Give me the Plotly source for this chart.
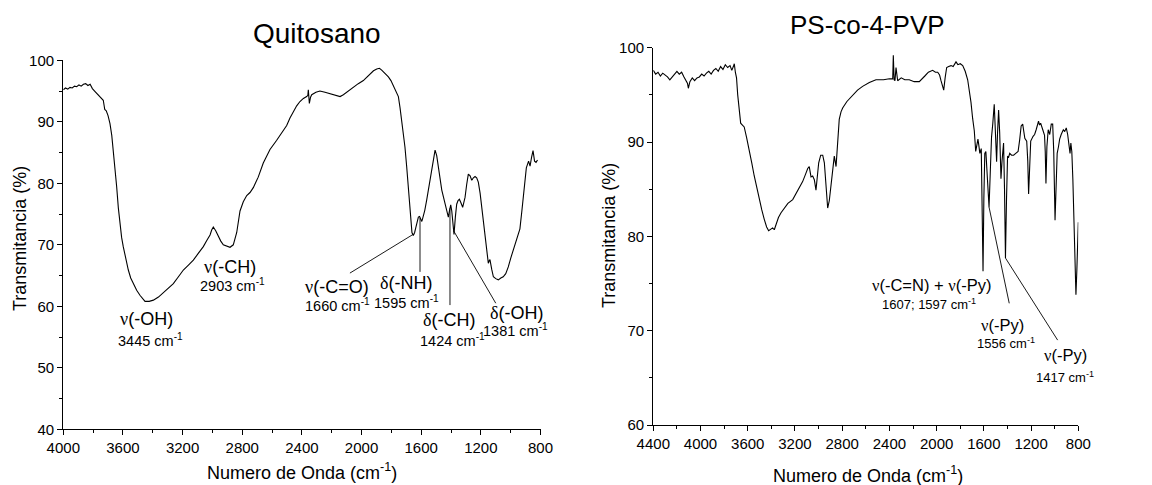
import numpy as np
import plotly.graph_objects as go

# ---------------- Quitosano FTIR spectrum (wavenumber cm-1, %T) ----------------
QUITOSANO_WN = [
    4000, 3985, 3970, 3955, 3940, 3925, 3910, 3895, 3880, 3865,
    3850, 3835, 3820, 3805, 3790, 3775, 3760, 3745, 3732, 3722,
    3712, 3700, 3687, 3675, 3665, 3653, 3642, 3631, 3620, 3609,
    3598, 3581, 3564, 3548, 3531, 3508, 3486, 3469, 3452, 3424,
    3396, 3362, 3329, 3295, 3262, 3228, 3195, 3161, 3128, 3095,
    3061, 3038, 3016, 3005, 2994, 2978, 2961, 2944, 2927, 2905,
    2882, 2860, 2837, 2815, 2793, 2770, 2748, 2726, 2693, 2659,
    2614, 2569, 2536, 2502, 2480, 2458, 2435, 2413, 2390, 2368,
    2360, 2357, 2353, 2350, 2342, 2334, 2306, 2279, 2245, 2212,
    2178, 2144, 2122, 2100, 2077, 2055, 2022, 1988, 1965, 1943,
    1920, 1898, 1880, 1865, 1843, 1820, 1803, 1787, 1770, 1753,
    1742, 1731, 1720, 1709, 1697, 1686, 1678, 1670, 1662, 1653,
    1644, 1635, 1627, 1619, 1611, 1603, 1596, 1590, 1576, 1563,
    1552, 1541, 1530, 1519, 1512, 1507, 1496, 1485, 1473, 1462,
    1451, 1440, 1429, 1418, 1410, 1402, 1395, 1389, 1384, 1380,
    1371, 1362, 1353, 1344, 1333, 1322, 1314, 1306, 1295, 1284,
    1272, 1261, 1250, 1239, 1228, 1217, 1205, 1194, 1183, 1172,
    1166, 1161, 1155, 1150, 1144, 1139, 1127, 1116, 1100, 1083,
    1066, 1050, 1033, 1016, 1000, 983, 965, 950, 938, 925,
    910, 895, 880, 870, 860, 850, 840, 830, 820,
]
QUITOSANO_T = [
    95.2, 95.5, 95.3, 95.6, 95.5, 95.8, 95.7, 96.0, 95.8, 96.1,
    96.2, 95.9, 96.1, 95.4, 95.0, 94.6, 94.1, 93.8, 93.5, 92.0,
    91.8, 91.0, 89.7, 87.8, 85.4, 82.5, 79.4, 76.0, 72.9, 71.2,
    69.7, 67.6, 65.9, 64.6, 63.7, 62.6, 61.8, 61.2, 60.8, 60.8,
    61.0, 61.5, 62.2, 63.0, 63.7, 64.8, 65.9, 66.7, 67.5, 68.6,
    69.7, 70.7, 71.6, 72.4, 72.9, 72.3, 71.3, 70.6, 70.0, 69.8,
    69.6, 70.0, 72.0, 75.5, 77.0, 78.0, 78.5, 79.3, 81.0, 83.3,
    85.5, 87.0, 88.2, 89.4, 90.6, 91.6, 92.6, 93.3, 93.8, 94.1,
    94.3, 95.2, 94.0, 93.0, 94.0, 94.4, 94.8, 95.0, 94.8, 94.6,
    94.3, 94.1, 94.4, 94.8, 95.3, 95.7, 96.2, 96.7, 97.3, 97.8,
    98.3, 98.6, 98.7, 98.4, 97.9, 97.3, 96.7, 95.9, 95.1, 94.1,
    92.3, 90.2, 88.2, 85.9, 82.6, 79.4, 76.2, 73.4, 72.0, 71.5,
    72.0, 72.9, 74.0, 74.5, 74.6, 74.0, 73.8, 74.3, 75.6, 77.3,
    78.9, 80.5, 82.5, 84.3, 85.1, 85.4, 84.5, 82.6, 80.6, 78.9,
    77.8, 76.7, 75.6, 74.5, 75.6, 76.5, 75.5, 74.0, 72.8, 71.7,
    74.5, 76.6, 77.2, 77.4, 76.8, 76.1, 76.9, 77.7, 79.8, 81.5,
    81.2, 80.5, 80.9, 81.1, 80.9, 80.2, 78.4, 76.1, 74.0, 71.8,
    70.6, 69.7, 68.0, 67.0, 67.4, 67.6, 66.0, 64.8, 64.5, 64.3,
    64.6, 64.8, 65.3, 66.4, 67.8, 69.2, 70.5, 71.8, 72.6, 75.5,
    79.0, 82.5, 83.6, 82.8, 84.2, 85.3, 83.6, 83.4, 83.8,
]

# ---------------- PS-co-4-PVP FTIR spectrum ----------------
PSPVP_WN = [
    4400, 4380, 4360, 4340, 4320, 4300, 4280, 4260, 4240, 4220,
    4200, 4180, 4160, 4140, 4125, 4110, 4103, 4090, 4070, 4050,
    4030, 4010, 3990, 3970, 3950, 3930, 3910, 3890, 3870, 3850,
    3830, 3810, 3790, 3770, 3750, 3735, 3722, 3714, 3705, 3695,
    3685, 3672, 3660, 3645, 3630, 3610, 3587, 3566, 3545, 3523,
    3502, 3481, 3460, 3440, 3423, 3405, 3389, 3375, 3361, 3340,
    3318, 3290, 3260, 3219, 3180, 3135, 3110, 3092, 3079, 3064,
    3050, 3036, 3022, 3010, 2999, 2982, 2965, 2951, 2937, 2923,
    2909, 2895, 2880, 2867, 2852, 2838, 2825, 2810, 2796, 2760,
    2711, 2670, 2627, 2570, 2514, 2450, 2400, 2372, 2367, 2360,
    2353, 2344, 2330, 2300, 2270, 2232, 2190, 2147, 2100, 2070,
    2034, 2010, 1991, 1975, 1963, 1950, 1940, 1928, 1915, 1898,
    1878, 1860, 1848, 1836, 1820, 1800, 1779, 1758, 1737, 1723,
    1709, 1695, 1681, 1669, 1660, 1650, 1642, 1634, 1622, 1614,
    1607, 1600, 1592, 1583, 1573, 1563, 1556, 1545, 1535, 1524,
    1512, 1502, 1492, 1484, 1475, 1466, 1455, 1446, 1440, 1433,
    1425, 1417, 1408, 1399, 1390, 1381, 1365, 1348, 1330, 1310,
    1297, 1284, 1271, 1262, 1253, 1237, 1228, 1221, 1212, 1203,
    1183, 1170, 1157, 1137, 1128, 1119, 1101, 1086, 1080, 1074,
    1066, 1055, 1042, 1029, 1017, 1008, 997, 988, 979, 968,
    958, 945, 927, 915, 902, 890, 876, 870, 863, 855,
    846, 835, 820, 812, 805, 800,
]
PSPVP_T = [
    97.6, 97.2, 97.4, 97.0, 97.3, 97.1, 96.9, 96.6, 96.9, 97.1,
    97.5, 97.2, 97.4, 96.9, 96.6, 96.2, 95.7, 96.4, 96.8, 96.5,
    96.8, 96.9, 97.2, 97.0, 97.3, 97.5, 97.2, 97.6, 97.8, 97.5,
    98.0, 97.7, 98.2, 97.9, 98.1, 97.6, 98.0, 98.3, 97.4, 96.8,
    95.0, 93.5, 92.0, 91.8, 91.6, 90.5, 89.2, 87.8, 86.4, 85.1,
    83.9, 82.8, 81.8, 81.0, 80.6, 80.8, 80.9, 80.7, 81.3, 82.0,
    82.5, 83.0, 83.5, 83.9, 84.8, 85.8, 86.6, 87.2, 87.4, 86.3,
    86.4, 86.0, 84.9, 86.5, 87.8, 88.6, 88.6, 87.8, 85.0, 83.0,
    83.8, 85.3, 87.5, 88.5, 87.4, 90.5, 92.4, 93.2, 93.6, 94.3,
    95.0, 95.5, 95.9, 96.3, 96.6, 96.6, 96.7, 96.7, 99.2, 96.6,
    96.5, 97.9, 96.5, 96.8, 96.6, 96.6, 96.4, 96.4, 97.0, 97.4,
    97.6, 97.4, 97.4, 97.1, 96.5, 95.8, 95.5, 96.8, 97.9, 98.0,
    98.1, 98.0, 98.3, 98.5, 98.2, 98.3, 98.1, 97.5, 96.6, 95.5,
    94.2, 92.5, 91.2, 89.0, 89.5, 90.3, 89.6, 88.8, 89.3, 84.0,
    76.3, 84.0, 88.8, 89.0, 87.0, 84.5, 83.1, 87.0, 90.5, 92.0,
    94.0, 91.0, 87.9, 91.0, 93.4, 91.0, 86.1, 88.0, 89.2, 89.9,
    85.0, 77.7, 84.0, 88.5, 88.4, 88.8, 88.6, 88.6, 88.8, 89.0,
    90.2, 91.7, 91.9, 91.2, 90.4, 90.1, 88.0, 84.5, 88.5, 90.1,
    90.6, 90.8, 91.3, 92.2, 91.8, 92.0, 91.3, 90.7, 89.0, 85.6,
    89.5, 91.3, 90.8, 91.9, 91.9, 89.0, 81.7, 86.5, 88.8, 89.5,
    90.3, 90.8, 91.3, 91.1, 91.5, 90.8, 89.5, 88.8, 89.9, 89.0,
    86.0, 80.0, 73.8, 76.5, 79.5, 81.5,
]

X_TICKS_QUI = [4000, 3600, 3200, 2800, 2400, 2000, 1600, 1200, 800]
X_TICKS_PVP = [4400, 4000, 3600, 3200, 2800, 2400, 2000, 1600, 1200, 800]
Y_TICKS_QUI = [40, 50, 60, 70, 80, 90, 100]
Y_TICKS_PVP = [60, 70, 80, 90, 100]

NU = "<span style='font-family:Liberation Serif'>ν</span>"
DELTA = "<span style='font-family:Liberation Serif'>δ</span>"

# band assignments: (label, wavenumber text, label x, label y, sub x, sub y)
QUI_BANDS = [
    (NU + "(-OH)", "3445", 3441, 57.9, 3413, 54.5),
    (NU + "(-CH)", "2903", 2882, 66.4, 2866, 63.5),
    (NU + "(-C=O)", "1660", 2162, 63.2, 2162, 60.2),
    (DELTA + "(-NH)", "1595", 1705, 63.8, 1698, 60.75),
    (DELTA + "(-CH)", "1424", 1416, 57.8, 1391, 54.6),
    (DELTA + "(-OH)", "1381", 958, 58.9, 965, 56.1),
]
# leader lines: (curve wavenumber, label end x, label end y)
QUI_LEADERS = [
    (1656, 2078, 65.4),
    (1608, 1608, 65.6),
    (1407, 1407, 60.2),
    (1382, 1100, 60.5),
]
PVP_BANDS = [
    (NU + "(-C=N) + " + NU + "(-Py)", "1607; 1597", 2041, 74.8, 2062, 72.8),
    (NU + "(-Py)", "1556", 1440, 70.6, 1412, 68.7),
    (NU + "(-Py)", "1417", 911, 67.4, 911, 65.1),
]
PVP_LEADERS = [
    (1556, 1385, 72.9),
    (1417, 975, 69.0),
]

FONT = "Liberation Sans, Arial, sans-serif"
W, H = 1152, 485

fig = go.Figure()
fig.add_trace(go.Scatter(x=QUITOSANO_WN, y=QUITOSANO_T, mode="lines",
                         line=dict(color="black", width=1.1),
                         xaxis="x", yaxis="y", showlegend=False))
fig.add_trace(go.Scatter(x=PSPVP_WN, y=PSPVP_T, mode="lines",
                         line=dict(color="black", width=1.1),
                         xaxis="x2", yaxis="y2", showlegend=False))


def px_x(p):
    return p / W


def px_y(p):
    return 1 - p / H


axis_common = dict(showgrid=False, zeroline=False, showline=True, automargin=False,
                   linecolor="black", linewidth=1.3, ticks="outside",
                   ticklen=5, tickwidth=1.2, tickcolor="black",
                   tickfont=dict(family=FONT, size=15, color="black"))

fig.update_layout(
    template="none",
    width=W, height=H,
    margin=dict(l=0, r=0, t=0, b=0, pad=0),
    paper_bgcolor="white", plot_bgcolor="white",
    font=dict(family=FONT, color="black"),
    showlegend=False,
    xaxis=dict(domain=[px_x(63.3), px_x(540.5)], range=[4000, 800],
               tickvals=X_TICKS_QUI, anchor="y",
               minor=dict(ticks="outside", ticklen=3, dtick=200,
                          tickcolor="black", tickwidth=1.1),
               **axis_common),
    yaxis=dict(domain=[px_y(429.3), px_y(60.3)], range=[40, 100],
               tickvals=Y_TICKS_QUI, anchor="x",
               minor=dict(ticks="outside", ticklen=3, dtick=5,
                          tickcolor="black", tickwidth=1.1),
               **axis_common),
    xaxis2=dict(domain=[px_x(653.3), px_x(1078.3)], range=[4400, 800],
                tickvals=X_TICKS_PVP, anchor="y2",
                minor=dict(ticks="outside", ticklen=3, dtick=200,
                           tickcolor="black", tickwidth=1.1),
                **axis_common),
    yaxis2=dict(domain=[px_y(425), px_y(47.7)], range=[60, 100],
                tickvals=Y_TICKS_PVP, anchor="x2",
                minor=dict(ticks="outside", ticklen=3, dtick=5,
                           tickcolor="black", tickwidth=1.1),
                **axis_common),
)

ann = []


def text_at(text, x, y, size, xref="paper", yref="paper", angle=0):
    ann.append(dict(text=text, x=x, y=y, xref=xref, yref=yref, showarrow=False,
                    xanchor="center", yanchor="middle", textangle=angle,
                    font=dict(size=size, family=FONT, color="black")))


# panel titles
text_at("Quitosano", px_x(317), px_y(34), 28)
text_at("PS-co-4-PVP", px_x(867.7), px_y(25), 26)
# axis titles
xtitle = "Numero de Onda (cm<sup>-1</sup>)"
text_at(xtitle, px_x(301.7), px_y(471), 18)
text_at(xtitle, px_x(867.7), px_y(474), 18)
text_at("Transmitancia (%)", px_x(20), px_y(239), 18, angle=-90)
text_at("Transmitancia (%)", px_x(609), px_y(236), 18, angle=-90)


def add_bands(bands, xr, yr, main_size, sub_size):
    for label, wn, lx, ly, sx, sy in bands:
        text_at(label, lx, ly, main_size, xr, yr)
        text_at(wn + " cm<sup>-1</sup>", sx, sy, sub_size, xr, yr)


add_bands(QUI_BANDS, "x", "y", 18, 14.5)
add_bands(PVP_BANDS, "x2", "y2", 16.5, 13)

shapes = []


def add_leaders(leaders, wn_data, t_data, xr, yr):
    wn_arr = np.array(wn_data)[::-1]
    t_arr = np.array(t_data)[::-1]
    for wn, ex, ey in leaders:
        y0 = float(np.interp(wn, wn_arr, t_arr))
        shapes.append(dict(type="line", xref=xr, yref=yr, x0=wn, y0=y0, x1=ex, y1=ey,
                           line=dict(color="black", width=0.9)))


add_leaders(QUI_LEADERS, QUITOSANO_WN, QUITOSANO_T, "x", "y")
add_leaders(PVP_LEADERS, PSPVP_WN, PSPVP_T, "x2", "y2")

fig.update_layout(annotations=ann, shapes=shapes)
fig.write_html("out.html")
